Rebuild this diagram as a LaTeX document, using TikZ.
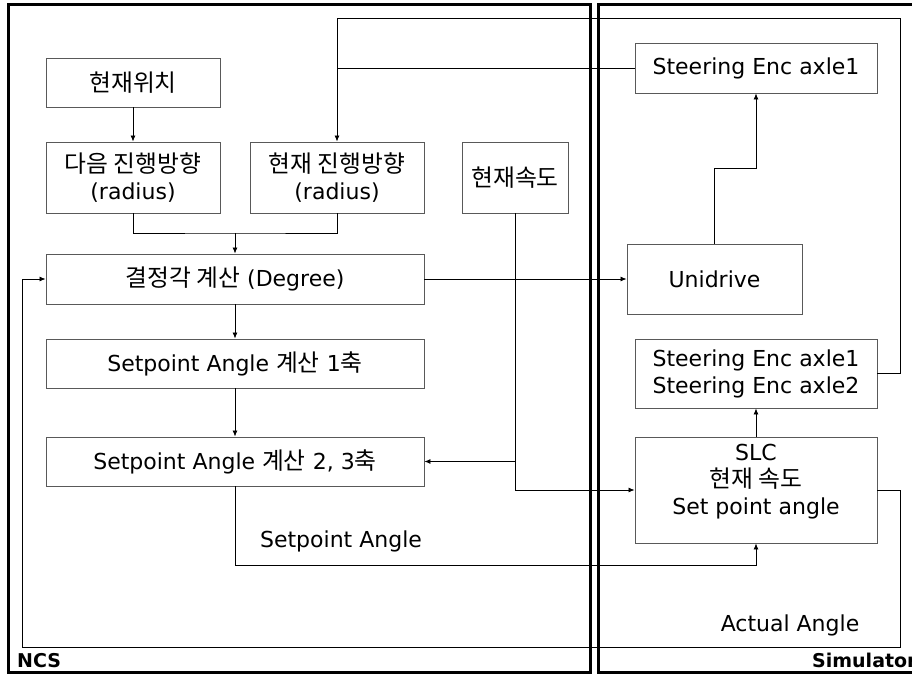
\documentclass[tikz,border=0pt]{standalone}
\usepackage{fontspec}
\setmainfont{DejaVu Sans}
\newfontfamily\krfont{Noto Sans CJK KR}[Scale=1.08]
\newcommand\kr[1]{{\krfont #1}}
\usetikzlibrary{arrows.meta, positioning}

\begin{document}
\begin{tikzpicture}[x=1pt, y=-1pt,
    box/.style={draw=black!65, line width=0.9pt, align=center, inner sep=0pt,
      font=\fontsize{22}{27}\selectfont},
    arr/.style={-{Latex[length=6pt, width=5pt]}, line width=0.8pt},
    conn/.style={line width=0.8pt},
    frame/.style={line width=3pt},
    lbl/.style={font=\fontsize{22}{27}\selectfont, inner sep=0pt},
    title/.style={font=\fontsize{19}{22}\selectfont\bfseries, inner sep=0pt, anchor=base west}]
\useasboundingbox (0,0) rectangle (912,674);
% frames
\draw[frame] (8,5) rectangle (590,672);
\draw[frame] (598,5) rectangle (940,672);
\node[title] (ncs) at (17,667) {NCS};
\node[title] (sim) at (812,667) {Simulator};
% NCS blocks
\node[box, minimum width=174pt, minimum height=49pt] (pos) at (133,82.5) {\kr{현재위치}};
\node[box, minimum width=174pt, minimum height=71pt] (next) at (133,177.5) {\kr{다음 진행방향}\\(radius)};
\node[box, minimum width=174pt, minimum height=71pt] (cur) at (337,177.5) {\kr{현재 진행방향}\\(radius)};
\node[box, minimum width=106pt, minimum height=71pt] (speed) at (515,177.5) {\kr{현재속도}};
\node[box, minimum width=378pt, minimum height=50pt] (deg) at (235,279) {\kr{결정각 계산} (Degree)};
\node[box, minimum width=378pt, minimum height=49pt] (sp1) at (235,363.5) {Setpoint Angle \kr{계산} 1\kr{축}};
\node[box, minimum width=378pt, minimum height=49pt] (sp23) at (235,461.5) {Setpoint Angle \kr{계산} 2, 3\kr{축}};
% Simulator blocks
\node[box, minimum width=242pt, minimum height=50pt] (enc1) at (756,68) {Steering Enc axle1};
\node[box, minimum width=175pt, minimum height=70pt] (uni) at (714.5,279) {Unidrive};
\node[box, minimum width=242pt, minimum height=69pt] (enc12) at (756,373.5) {Steering Enc axle1\\Steering Enc axle2};
\node[box, minimum width=242pt, minimum height=106pt, text depth=22pt] (slc) at (756,490) {SLC\\\kr{현재 속도}\\Set point angle};
% labels
\node[lbl] (salbl) at (341,541) {Setpoint Angle};
\node[lbl] (aalbl) at (790,625) {Actual Angle};
% helper points
\coordinate (mrg) at (235,233);
\coordinate (j1) at (714.5,168);
\coordinate (br) at (speed.south |- sp23.east);
\coordinate (sa) at (235,565);
\coordinate (tr) at (900,18);
\coordinate (tl) at (337,18);
\coordinate (rb) at (900,647);
\coordinate (lb) at (22,647);
% connectors
\draw[arr] (pos) -- (next);
\draw[conn] (next.south) |- (mrg) -| (cur.south);
\draw[arr] (mrg) -- (deg);
\draw[arr] (deg) -- (sp1);
\draw[arr] (sp1) -- (sp23);
\draw[arr] (deg.east) -- (uni.west);
\draw[arr] (uni.north) -- (j1) -| (enc1.south);
\draw[arr] (speed.south) |- (slc.west);
\draw[arr] (br) -- (sp23.east);
\draw[arr] (sp23.south) -- (sa) -| (slc.south);
\draw[arr] (slc) -- (enc12);
\draw[arr] (enc12.east) -| (tr) -- (tl) -- (cur.north);
\draw[conn] (enc1.west) -- (enc1.west -| tl);
\draw[arr] (slc.east) -| (rb) -- (lb) |- (deg.west);
\end{tikzpicture}
\end{document}
